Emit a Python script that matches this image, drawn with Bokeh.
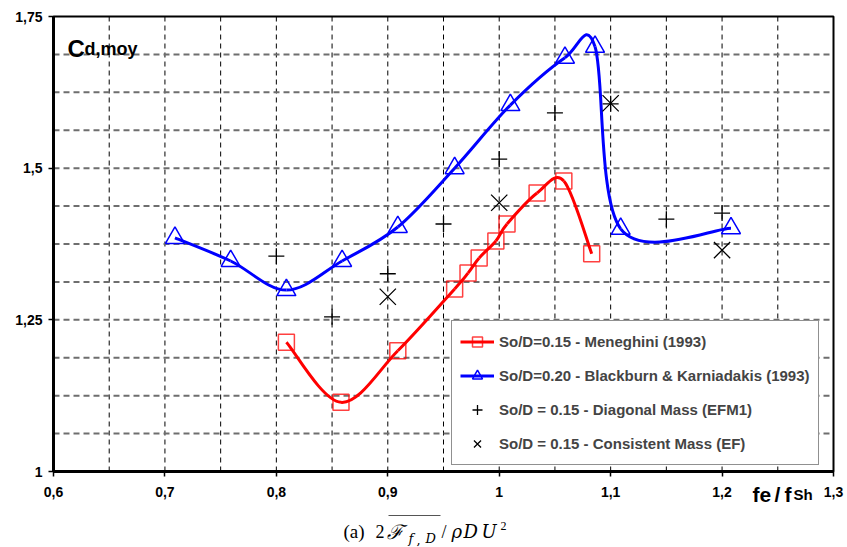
from bokeh.plotting import figure
from bokeh.models import (FixedTicker, Label, Legend, LegendItem, Range1d, Arrow)
from bokeh.embed import file_html
from bokeh.resources import INLINE

# ---------------- data ----------------
men_x = [0.809, 0.858, 0.909, 0.960, 0.972, 0.982, 0.997, 1.007, 1.034, 1.058, 1.083]
men_y = [1.213, 1.114, 1.199, 1.301, 1.327, 1.352, 1.380, 1.408, 1.459, 1.479, 1.359]

bk_x = [0.709, 0.759, 0.809, 0.859, 0.909, 0.960, 1.010, 1.059, 1.086, 1.109, 1.208]
bk_y = [1.385, 1.347, 1.299, 1.347, 1.403, 1.500, 1.604, 1.682, 1.700, 1.400, 1.401]

efm1_x = [0.80, 0.85, 0.90, 0.95, 1.00, 1.05, 1.10, 1.15, 1.20]
efm1_y = [1.355, 1.255, 1.326, 1.408, 1.515, 1.591, 1.606, 1.416, 1.426]

ef_x = [0.90, 1.00, 1.10, 1.20]
ef_y = [1.288, 1.443, 1.607, 1.365]

x_ticks = [0.6, 0.7, 0.8, 0.9, 1.0, 1.1, 1.2, 1.3]
x_tick_labels = ["0,6", "0,7", "0,8", "0,9", "1", "1,1", "1,2", "1,3"]
y_ticks = [1.0, 1.25, 1.5, 1.75]
y_tick_labels = ["1", "1,25", "1,5", "1,75"]
x_grid = [0.65, 0.70, 0.75, 0.80, 0.85, 0.90, 0.95, 1.00, 1.05, 1.10, 1.15, 1.20, 1.25]
y_grid = [1.0625, 1.125, 1.1875, 1.25, 1.3125, 1.375, 1.4375, 1.5, 1.5625, 1.625, 1.6875]

labels = ["So/D=0.15 - Meneghini (1993)",
          "So/D=0.20 - Blackburn & Karniadakis (1993)",
          "So/D = 0.15 - Diagonal Mass (EFM1)",
          "So/D = 0.15 - Consistent Mass (EF)"]

# ---------------- layout ----------------
W, H = 847, 547
FL, FR, FT, FB = 53, 833, 16, 471  # plot box edges in page pixels
XR = (0.6, 1.3)
YR = (1.0, 1.75)
SX = (FR - FL) / (XR[1] - XR[0])
SY = (FB - FT) / (YR[1] - YR[0])


def at(px, py):
    """page pixel -> data coordinates (annotations only)"""
    return XR[0] + (px - FL) / SX, YR[1] - (py - FT) / SY


def smooth(xs, ys):
    """Catmull-Rom style bezier segments through the points (Excel smoothed line)."""
    n = len(xs)
    out = dict(x0=[], y0=[], x1=[], y1=[], cx0=[], cy0=[], cx1=[], cy1=[])
    for i in range(n - 1):
        xa, ya, xb, yb = xs[i], ys[i], xs[i + 1], ys[i + 1]
        xp, yp = (xs[i - 1], ys[i - 1]) if i > 0 else (xa, ya)
        xn, yn = (xs[i + 2], ys[i + 2]) if i + 2 < n else (xb, yb)
        out["x0"].append(xa); out["y0"].append(ya)
        out["x1"].append(xb); out["y1"].append(yb)
        out["cx0"].append(xa + (xb - xp) / 6); out["cy0"].append(ya + (yb - yp) / 6)
        out["cx1"].append(xb - (xn - xa) / 6); out["cy1"].append(yb - (yn - ya) / 6)
    return out


# the frame covers the whole page so that texts outside the plot box are not clipped;
# the axes are pinned to the box with fixed_location
x0r, y1r = at(0, 0)
x1r, y0r = at(W, H)
p = figure(width=W, height=H, x_range=Range1d(x0r, x1r), y_range=Range1d(y0r, y1r),
           output_backend="svg", toolbar_location=None, min_border=0)
p.background_fill_color = "white"
p.border_fill_color = "white"
p.outline_line_color = None
p.xgrid.visible = False
p.ygrid.visible = False

# axes
for ax, ticks, labs, rng, loc in ((p.xaxis, x_ticks, x_tick_labels, XR, YR[0]),
                                  (p.yaxis, y_ticks, y_tick_labels, YR, XR[0])):
    ax.fixed_location = loc
    ax.bounds = rng
    ax.ticker = FixedTicker(ticks=ticks)
    ax.major_label_overrides = {t: l for t, l in zip(ticks, labs)}
    ax.axis_line_width = 3
    ax.axis_line_color = "black"
    ax.major_tick_line_color = "black"
    ax.major_tick_line_width = 1.5
    ax.major_tick_in = 0
    ax.major_tick_out = 5
    ax.minor_tick_line_color = None
    ax.major_label_text_font = "Liberation Sans"
    ax.major_label_text_font_style = "bold"
    ax.major_label_text_font_size = "14px"
    ax.major_label_text_color = "black"
p.xaxis.major_label_standoff = 10
p.yaxis.major_label_standoff = 6

# grid lines inside the plot box
p.segment(x0=x_grid, y0=[YR[0]] * len(x_grid), x1=x_grid, y1=[YR[1]] * len(x_grid),
          line_color="black", line_width=1, line_dash="5 4")
p.segment(x0=[XR[0]] * len(y_grid), y0=y_grid, x1=[XR[1]] * len(y_grid), y1=y_grid,
          line_color="#6e6e6e", line_width=2, line_dash="6 4")
# box border (top / right)
p.quad(left=[XR[0]], right=[XR[1]], bottom=[YR[0]], top=[YR[1]],
       fill_color=None, line_color="black", line_width=2)

# series
r_men_line = p.bezier(**smooth(men_x, men_y), line_color="#ff0000", line_width=3)
r_men_pts = p.scatter(men_x, men_y, marker="square", size=16, fill_color=None,
                      line_color="#ff0000", line_alpha=0.75, line_width=1.5)
r_bk_line = p.bezier(**smooth(bk_x, bk_y), line_color="#0000ff", line_width=3)
r_bk_pts = p.scatter(bk_x, bk_y, marker="triangle", size=19, fill_color=None,
                     line_color="#0000ff", line_width=1.5)
r_efm1 = p.scatter(efm1_x, efm1_y, marker="cross", size=16, line_color="black", line_width=1.3)
r_ef = p.scatter(ef_x, ef_y, marker="x", size=23, line_color="black", line_width=1.3)

legend = Legend(items=[
    LegendItem(label=labels[0], renderers=[r_men_line, r_men_pts]),
    LegendItem(label=labels[1], renderers=[r_bk_line, r_bk_pts]),
    LegendItem(label=labels[2], renderers=[r_efm1]),
    LegendItem(label=labels[3], renderers=[r_ef]),
], location=(451, H - 465))
legend.label_text_font = "Liberation Sans"
legend.label_text_font_style = "bold"
legend.label_text_font_size = "15px"
legend.label_height = 17
legend.glyph_height = 25
legend.glyph_width = 34
legend.label_standoff = 5
legend.spacing = 9
legend.padding = 8
legend.margin = 0
legend.border_line_color = "#222222"
legend.border_line_width = 1.5
legend.background_fill_color = "white"
legend.background_fill_alpha = 1
p.add_layout(legend)


def text(px, py, s, size, font="Liberation Sans", style="bold", color="black"):
    x, y = at(px, py)
    p.add_layout(Label(x=x, y=y, text=s, text_font=font, text_font_style=style,
                       text_font_size=size, text_color=color,
                       text_baseline="alphabetic", text_align="left"))


# y title inside the box
text(67, 48, "C", "24px")
text(84, 48, "d,moy", "18px")
# x title
text(752, 494, "fe", "21px")
text(774, 494, "/", "21px")
text(784, 494, "f", "21px")
text(793, 494, "Sh", "15px")

# caption
SERIF = "Liberation Serif"
MATH = "DejaVu Serif"
BASE = 531
text(343, BASE, "(a)", "19px", font=SERIF, style="normal")
text(375, BASE, "2", "18px", font=SERIF, style="normal")
text(386, BASE, "\u2131", "20px", font=MATH, style="italic")
text(408, BASE + 7, "f", "13px", font=MATH, style="italic")
text(416, BASE + 7, ",", "13px", font=MATH, style="normal")
text(425, BASE + 7, "D", "13px", font=MATH, style="italic")
text(441, BASE, "/", "18px", font=SERIF, style="normal")
text(451, BASE, "\u03c1", "18px", font=MATH, style="italic")
text(463, BASE, "D", "18px", font=MATH, style="italic")
text(481, BASE, "U", "18px", font=MATH, style="italic")
text(500, BASE - 6, "2", "12px", font=SERIF, style="normal")
ox0, oy = at(388, 515)
ox1, _ = at(440, 515)
p.add_layout(Arrow(end=None, x_start=ox0, y_start=oy, x_end=ox1, y_end=oy,
                   line_color="#555555", line_width=1))

open("out.html", "w").write(file_html(p, INLINE))
